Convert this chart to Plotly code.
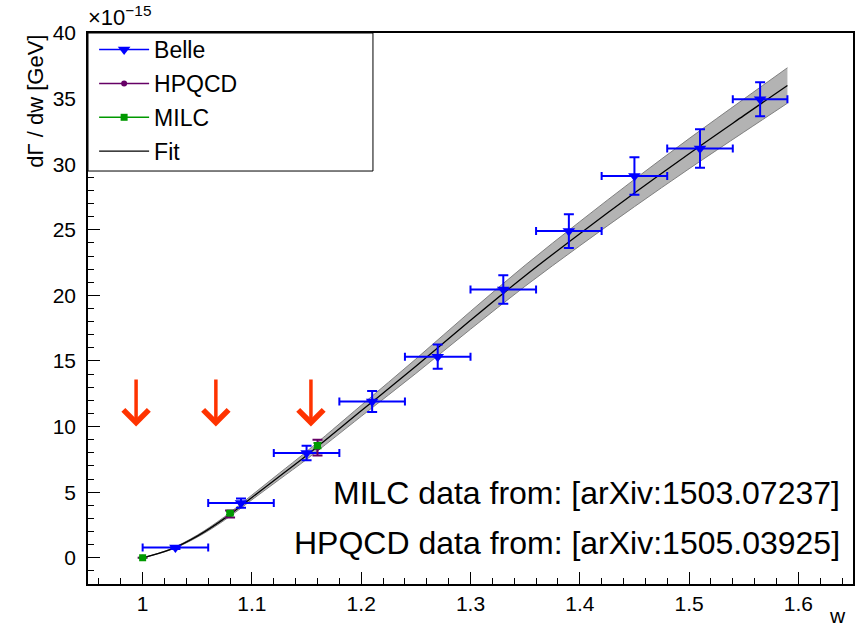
import plotly.graph_objects as go

# ---------------- data (units of 1e-15 GeV) ----------------
belle_w = [1.03, 1.09, 1.15, 1.21, 1.27, 1.33, 1.39, 1.45, 1.51, 1.565]
belle_werr = [0.03, 0.03, 0.03, 0.03, 0.03, 0.03, 0.03, 0.03, 0.03, 0.025]
belle_y = [0.78, 4.17, 7.98, 11.92, 15.33, 20.45, 24.9, 29.1, 31.2, 34.95]
belle_yerr = [0.12, 0.35, 0.55, 0.80, 0.92, 1.08, 1.28, 1.42, 1.47, 1.30]

hpqcd_w = [1.0, 1.08, 1.16]
hpqcd_y = [0.0, 3.34, 8.40]
hpqcd_yerr = [0.0, 0.27, 0.60]

milc_w = [1.0, 1.08, 1.16]
milc_y = [0.0, 3.40, 8.55]
milc_yerr = [0.0, 0.10, 0.20]

fit_w = [1.0, 1.025, 1.05, 1.075, 1.10, 1.125, 1.15, 1.20, 1.25, 1.30, 1.35,
         1.40, 1.45, 1.50, 1.55, 1.59]
fit_y = [0.0, 0.62, 1.65, 3.0, 4.6, 6.2, 7.8, 11.2, 14.6, 18.1, 21.5,
         24.7, 27.8, 30.8, 33.7, 36.0]
fit_halfband = [0.0, 0.03, 0.08, 0.13, 0.18, 0.24, 0.30, 0.42, 0.55, 0.68, 0.80,
                0.92, 1.04, 1.15, 1.26, 1.35]

arrow_w = [0.994, 1.067, 1.154]
arrow_top = 13.7
arrow_tip = 10.0

notes = ["MILC data from: [arXiv:1503.07237]", "HPQCD data from: [arXiv:1505.03925]"]

# ---------------- styles ----------------
FONT = "Liberation Sans, Arial, Helvetica, sans-serif"
BLUE = "#0000ff"
PURPLE = "#660066"
GREEN = "#009900"
RED = "#ff3300"

fit_lo = [y - h for y, h in zip(fit_y, fit_halfband)]
fit_hi = [y + h for y, h in zip(fit_y, fit_halfband)]

fig = go.Figure()

# band
fig.add_trace(go.Scatter(x=fit_w, y=fit_lo, mode="lines", line=dict(color="#808080", width=1, shape="spline"),
                         showlegend=False, hoverinfo="skip"))
fig.add_trace(go.Scatter(x=fit_w, y=fit_hi, mode="lines", line=dict(color="#808080", width=1, shape="spline"),
                         fill="tonexty", fillcolor="#b3b3b3", showlegend=False, hoverinfo="skip"))
# fit line
fig.add_trace(go.Scatter(x=fit_w, y=fit_y, mode="lines", line=dict(color="black", width=1.3, shape="spline"),
                         showlegend=False))

# Belle
fig.add_trace(go.Scatter(x=belle_w, y=belle_y, mode="markers",
                         marker=dict(symbol="triangle-down", size=11, color=BLUE),
                         error_x=dict(type="data", array=belle_werr, color=BLUE, thickness=2, width=4),
                         error_y=dict(type="data", array=belle_yerr, color=BLUE, thickness=2, width=5),
                         showlegend=False))
# HPQCD
fig.add_trace(go.Scatter(x=hpqcd_w, y=hpqcd_y, mode="markers",
                         marker=dict(symbol="circle", size=6, color=PURPLE),
                         error_y=dict(type="data", array=hpqcd_yerr, color=PURPLE, thickness=2, width=5),
                         showlegend=False))
# MILC
fig.add_trace(go.Scatter(x=milc_w, y=milc_y, mode="markers",
                         marker=dict(symbol="square", size=7, color=GREEN),
                         error_y=dict(type="data", array=milc_yerr, color=GREEN, thickness=2, width=4),
                         showlegend=False))

# legend entries
fig.add_trace(go.Scatter(x=[None], y=[None], mode="lines+markers", name="Belle", legendgroup="a",
                         line=dict(color=BLUE, width=1.5),
                         marker=dict(symbol="triangle-down", size=11, color=BLUE)))
fig.add_trace(go.Scatter(x=[None], y=[None], mode="lines+markers", name="HPQCD", legendgroup="b",
                         line=dict(color=PURPLE, width=1.5),
                         marker=dict(symbol="circle", size=6, color=PURPLE)))
fig.add_trace(go.Scatter(x=[None], y=[None], mode="lines+markers", name="MILC", legendgroup="c",
                         line=dict(color=GREEN, width=1.5),
                         marker=dict(symbol="square", size=7, color=GREEN)))
fig.add_trace(go.Scatter(x=[None], y=[None], mode="lines", name="Fit", legendgroup="d",
                         line=dict(color="black", width=1.3)))

annotations = []
for w in arrow_w:
    annotations.append(dict(x=w, y=arrow_tip, ax=w, ay=arrow_top, xref="x", yref="y",
                            axref="x", ayref="y", showarrow=True, arrowhead=4,
                            arrowsize=1.4, arrowwidth=3.5, arrowcolor=RED, text=""))
annotations.append(dict(x=0.9856, y=0.165, xref="paper", yref="paper", xanchor="right", yanchor="middle",
                        text=notes[0], showarrow=False, font=dict(family=FONT, size=32, color="black")))
annotations.append(dict(x=0.9856, y=0.0744, xref="paper", yref="paper", xanchor="right", yanchor="middle",
                        text=notes[1], showarrow=False, font=dict(family=FONT, size=32, color="black")))
annotations.append(dict(x=-0.002, y=1.03, xref="paper", yref="paper", xanchor="left", yanchor="middle",
                        text="×10<sup>−15</sup>", showarrow=False, font=dict(family=FONT, size=22, color="black")))
annotations.append(dict(x=-0.069, y=1.0, xref="paper", yref="paper", xanchor="center", yanchor="top",
                        textangle=-90, text="dΓ / dw [GeV]", showarrow=False,
                        font=dict(family=FONT, size=22, color="black")))
annotations.append(dict(x=0.9935, y=-0.058, xref="paper", yref="paper", xanchor="right", yanchor="middle",
                        text="w", showarrow=False, font=dict(family=FONT, size=21, color="black")))

fig.update_layout(
    width=856, height=628,
    margin=dict(l=88, r=3, t=33, b=44, autoexpand=False),
    paper_bgcolor="white", plot_bgcolor="white",
    font=dict(family=FONT, size=21, color="black"),
    showlegend=True,
    legend=dict(x=0.008, y=1.009, xanchor="left", yanchor="top", bgcolor="rgba(0,0,0,0)",
                borderwidth=0, font=dict(family=FONT, size=23), tracegroupgap=1, itemwidth=50),
    annotations=annotations,
    shapes=[dict(type="rect", xref="paper", yref="paper", x0=0, x1=0.3725, y0=0.7495, y1=1,
                 line=dict(color="black", width=1), fillcolor="white", layer="above")],
)

fig.update_xaxes(range=[0.95, 1.65], dtick=0.1, tick0=1.0, showgrid=False, zeroline=False,
                 showline=True, linecolor="black", linewidth=1.5, mirror=True,
                 ticks="inside", ticklen=12, tickwidth=1.3, tickcolor="black",
                 minor=dict(dtick=0.02, ticks="inside", ticklen=6, tickwidth=1.3, tickcolor="black"),
                 tickfont=dict(family=FONT, size=21), ticklabelstandoff=0)
fig.update_yaxes(range=[-2, 40], dtick=5, tick0=0, showgrid=False, zeroline=False,
                 showline=True, linecolor="black", linewidth=1.5, mirror=True,
                 ticks="inside", ticklen=12, tickwidth=1.3, tickcolor="black",
                 minor=dict(dtick=1, ticks="inside", ticklen=6, tickwidth=1.3, tickcolor="black"),
                 tickfont=dict(family=FONT, size=21), ticklabelstandoff=6)

fig.write_html("out.html", config={"displayModeBar": False},
               post_script="document.body.style.margin='0';")
